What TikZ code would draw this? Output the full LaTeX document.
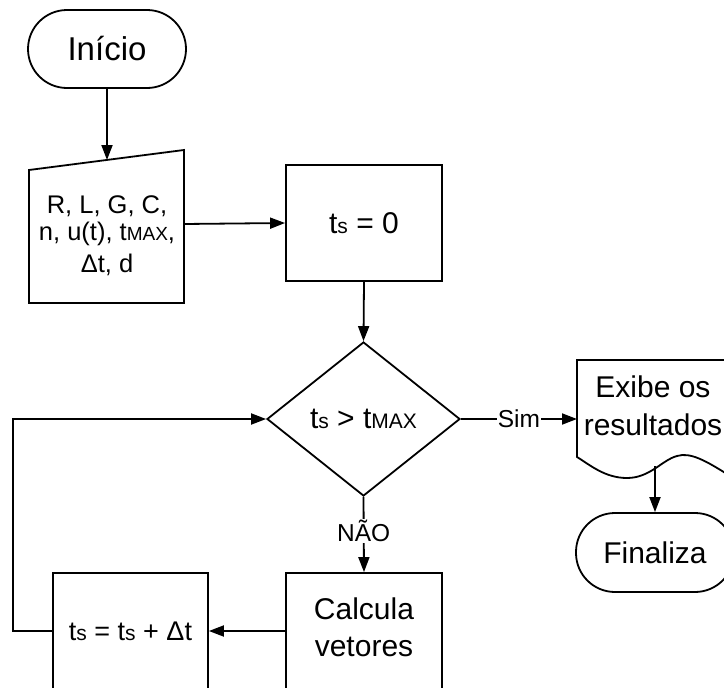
\documentclass[tikz,border=0pt]{standalone}
\usepackage{fontspec}
\setmainfont{Liberation Sans}
\usetikzlibrary{arrows.meta,shapes.geometric}
\newcommand{\sbx}[1]{{\fontsize{21}{21}\selectfont #1}}
\newcommand{\sby}[1]{{\fontsize{19}{19}\selectfont #1}}
\begin{document}
\begin{tikzpicture}[x=1pt,y=-1pt, line width=1.8pt,
 arr/.style={-{Triangle[length=15pt,width=11pt]}},
 box/.style={draw, minimum width=156pt, minimum height=116pt, inner sep=0pt, font=\fontsize{30}{38}\selectfont, align=center},
 term/.style={draw, rounded corners=39pt, minimum width=158pt, minimum height=78pt, inner sep=0pt},
 txt/.style={align=center, inner sep=0pt},
 lbl/.style={fill=white, inner sep=1pt, font=\fontsize{24.5}{28}\selectfont}]
\useasboundingbox (0,0) rectangle (724,688);
% start
\node[term, font=\fontsize{33}{36}\selectfont] (inicio) at (107,49) {Início};
% manual input
\draw (29,170) -- (184,150) -- (184,303) -- (29,303) -- cycle;
\node[txt, font=\fontsize{25.5}{27}\selectfont] (inp) at (107,236) {R, L, G, C,\\ n, u(t), t\sby{MAX},\\[5pt] Δt, d};
\coordinate (inTop) at (107,160);
\coordinate (inRight) at (184,224);
% process
\node[box] (ts0) at (364,223) {t\sbx{s} = 0};
\node[draw, diamond, minimum width=193pt, minimum height=154pt, inner sep=0pt, aspect=1.25, font=\fontsize{30}{32}\selectfont] (dec) at (363.5,419) {t\sbx{s} > t\sbx{MAX}};
\node[box] (calc) at (364,631) {};
\node[txt, font=\fontsize{30}{37}\selectfont] (calctxt) at (364,627) {Calcula\\vetores};
\node[box, minimum width=155pt, font=\fontsize{27}{30}\selectfont] (inc) at (130.5,631) {t\sbx{s} = t\sbx{s} + Δt};
% display
\draw (577,457) -- (577,360) -- (730,360) -- (730,476) .. controls (705,460) and (690,452) .. (677,456) .. controls (662,460) and (650,478) .. (627,478) .. controls (605,478) and (590,465) .. (577,457) -- cycle;
\node[txt, font=\fontsize{30}{38}\selectfont] (disptxt) at (653,406) {Exibe os\\resultados};
\coordinate (dispin) at (577,419);
\coordinate (dispout) at (655,466);
\node[term, minimum height=79pt, font=\fontsize{30}{32}\selectfont] (fin) at (655,552.5) {Finaliza};
% connectors
\draw[arr] (inicio) -- (inTop);
\draw[arr] (inRight) -- (ts0.west);
\draw[arr] (ts0.south) -- (dec.north);
\draw[arr] (dec.east) -- node[lbl]{Sim} (dispin);
\draw[arr] (dispout) -- (fin.north);
\draw[arr] (dec.south) -- node[lbl,pos=0.45]{NÃO} (calc.north);
\draw[arr] (calc.west) -- (inc.east);
\draw[arr] (inc.west) -- ++(-39,0) |- (dec.west);
\end{tikzpicture}
\end{document}
